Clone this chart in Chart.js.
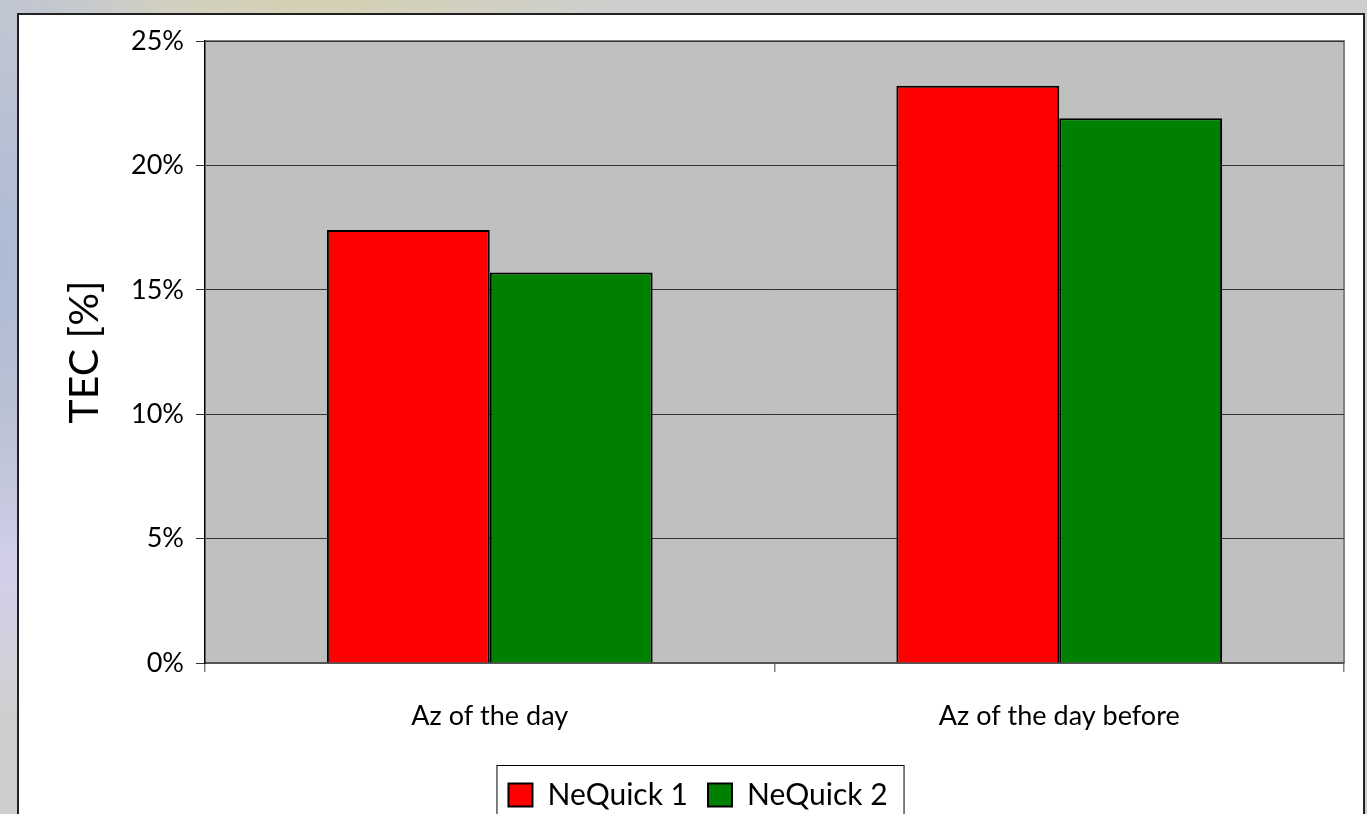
<!DOCTYPE html>
<html>
<head>
<meta charset="utf-8">
<script src="https://cdn.jsdelivr.net/npm/chart.js@4.4.0/dist/chart.umd.min.js"></script>
<style>
  html, body { margin: 0; padding: 0; width: 1367px; height: 814px; overflow: hidden; }
  body {
    background: #cecece;
    background-image:
      radial-gradient(ellipse 200px 420px at 0px 260px, rgba(170,185,215,0.9), rgba(206,206,206,0) 100%),
      radial-gradient(ellipse 120px 160px at 10px 560px, rgba(225,215,245,0.9), rgba(206,206,206,0) 100%),
      radial-gradient(ellipse 300px 40px at 320px 0px, rgba(215,210,170,0.8), rgba(206,206,206,0) 100%);
  }
  #frame {
    position: absolute; left: 17px; top: 13px; width: 1344px; height: 840px;
    background: #fff; border: 2px solid #222;
  }
  #wrap { position: absolute; left: 0; top: 0; width: 1367px; height: 850px; }
</style>
</head>
<body>
<div id="frame"></div>
<div id="wrap"><canvas id="chart"></canvas></div>
<script>
const categories = ['Az of the day', 'Az of the day before'];
const nequick1 = [17.4, 23.2];
const nequick2 = [15.7, 21.9];
const yTicks = [0, 5, 10, 15, 20, 25];

const FONT = 'Lato, "Open Sans", sans-serif';

// grey plot background with the thin outline on top and right
const plotBg = {
  id: 'plotBg',
  beforeDraw(chart) {
    const { ctx, chartArea: a } = chart;
    ctx.save();
    ctx.fillStyle = '#c0c0c0';
    ctx.fillRect(a.left, a.top, a.right - a.left, a.bottom - a.top);
    ctx.strokeStyle = '#808080';
    ctx.lineWidth = 2;
    ctx.beginPath();
    ctx.moveTo(a.left, a.top);
    ctx.lineTo(a.right, a.top);
    ctx.lineTo(a.right, a.bottom);
    ctx.stroke();
    ctx.restore();
  }
};

// box around the legend items
const legendBox = {
  id: 'legendBox',
  afterDraw(chart) {
    const boxes = chart.legend.legendHitBoxes;
    if (!boxes || !boxes.length) return;
    const l = boxes[0].left - 12;
    const r = boxes[boxes.length - 1].left + boxes[boxes.length - 1].width + 16;
    const t = boxes[0].top - 15;
    const { ctx } = chart;
    ctx.save();
    ctx.strokeStyle = '#000';
    ctx.lineWidth = 1;
    ctx.strokeRect(l + 0.5, t + 0.5, r - l, 100);
    ctx.restore();
  }
};

new Chart(document.getElementById('chart'), {
  type: 'bar',
  data: {
    labels: categories,
    datasets: [
      { label: 'NeQuick 1', data: nequick1, backgroundColor: '#ff0000', borderColor: '#000', borderWidth: 2 },
      { label: 'NeQuick 2', data: nequick2, backgroundColor: '#008000', borderColor: '#000', borderWidth: 2 }
    ]
  },
  options: {
    responsive: true,
    maintainAspectRatio: false,
    animation: false,
    devicePixelRatio: 1,
    datasets: { bar: { categoryPercentage: 0.572, barPercentage: 1.0 } },
    layout: { padding: { left: 52, top: 41, right: 23, bottom: 30 } },
    plugins: {
      tooltip: { enabled: false },
      legend: {
        position: 'bottom',
        labels: {
          color: '#000',
          font: { family: FONT, size: 30 },
          boxWidth: 24,
          boxHeight: 23,
          padding: 20,
          useBorderRadius: false
        }
      }
    },
    scales: {
      x: {
        offset: true,
        grid: { offset: true, drawOnChartArea: false, color: '#808080', tickLength: 9, lineWidth: 1.5 },
        border: { color: '#555', width: 2 },
        ticks: { color: '#000', font: { family: FONT, size: 27 }, padding: 28 },
        afterFit(s) { s.height = 97; }
      },
      y: {
        min: 0,
        max: 25,
        afterBuildTicks(s) { s.ticks = yTicks.map(v => ({ value: v })); },
        grid: { color: '#333', lineWidth: 1, tickLength: 9 },
        border: { color: '#000', width: 1.5 },
        ticks: { color: '#000', font: { family: FONT, size: 27 }, padding: 12, callback: v => v + '%' },
        title: {
          display: true,
          text: 'TEC [%]',
          color: '#000',
          font: { family: FONT, size: 41 },
          padding: { top: 8, bottom: 0 }
        },
        afterFit(s) { s.width = 153; }
      }
    }
  },
  plugins: [plotBg, legendBox]
});
</script>
</body>
</html>
